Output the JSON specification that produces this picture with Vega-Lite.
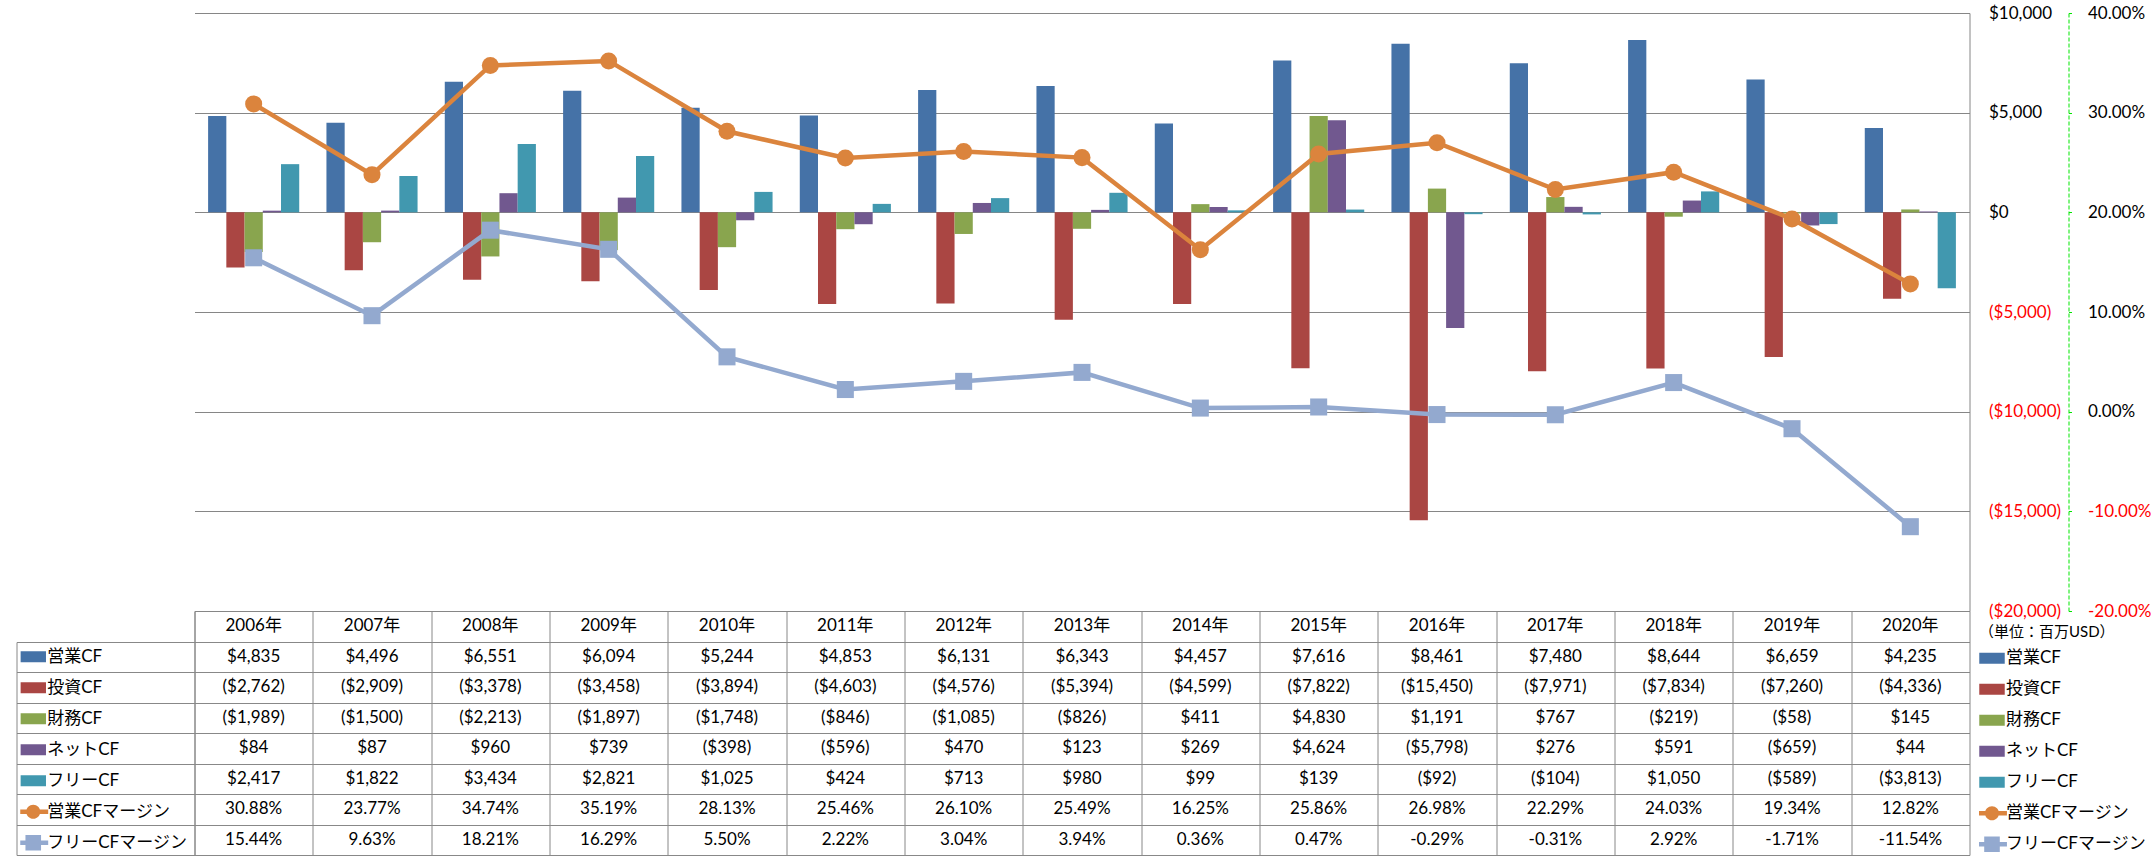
{
  "$schema": "https://vega.github.io/schema/vega-lite/v6.json",
  "autosize": {"type": "pad"},
  "padding": {"left": 15.5, "top": 4, "right": 2, "bottom": 1},
  "background": "white",
  "bounds": "flush",
  "spacing": 0,
  "config": {
    "font": "Lato, 'Noto Sans CJK JP'",
    "view": {"stroke": null},
    "locale": {"number": {"decimal": ".", "thousands": ",", "grouping": [3], "currency": ["$", ""], "minus": "-"}}
  },
  "datasets": {
    "cf": [
      {"year":"2006年","series":"営業CF","value":4835},{"year":"2007年","series":"営業CF","value":4496},{"year":"2008年","series":"営業CF","value":6551},{"year":"2009年","series":"営業CF","value":6094},{"year":"2010年","series":"営業CF","value":5244},{"year":"2011年","series":"営業CF","value":4853},{"year":"2012年","series":"営業CF","value":6131},{"year":"2013年","series":"営業CF","value":6343},{"year":"2014年","series":"営業CF","value":4457},{"year":"2015年","series":"営業CF","value":7616},{"year":"2016年","series":"営業CF","value":8461},{"year":"2017年","series":"営業CF","value":7480},{"year":"2018年","series":"営業CF","value":8644},{"year":"2019年","series":"営業CF","value":6659},{"year":"2020年","series":"営業CF","value":4235},
      {"year":"2006年","series":"投資CF","value":-2762},{"year":"2007年","series":"投資CF","value":-2909},{"year":"2008年","series":"投資CF","value":-3378},{"year":"2009年","series":"投資CF","value":-3458},{"year":"2010年","series":"投資CF","value":-3894},{"year":"2011年","series":"投資CF","value":-4603},{"year":"2012年","series":"投資CF","value":-4576},{"year":"2013年","series":"投資CF","value":-5394},{"year":"2014年","series":"投資CF","value":-4599},{"year":"2015年","series":"投資CF","value":-7822},{"year":"2016年","series":"投資CF","value":-15450},{"year":"2017年","series":"投資CF","value":-7971},{"year":"2018年","series":"投資CF","value":-7834},{"year":"2019年","series":"投資CF","value":-7260},{"year":"2020年","series":"投資CF","value":-4336},
      {"year":"2006年","series":"財務CF","value":-1989},{"year":"2007年","series":"財務CF","value":-1500},{"year":"2008年","series":"財務CF","value":-2213},{"year":"2009年","series":"財務CF","value":-1897},{"year":"2010年","series":"財務CF","value":-1748},{"year":"2011年","series":"財務CF","value":-846},{"year":"2012年","series":"財務CF","value":-1085},{"year":"2013年","series":"財務CF","value":-826},{"year":"2014年","series":"財務CF","value":411},{"year":"2015年","series":"財務CF","value":4830},{"year":"2016年","series":"財務CF","value":1191},{"year":"2017年","series":"財務CF","value":767},{"year":"2018年","series":"財務CF","value":-219},{"year":"2019年","series":"財務CF","value":-58},{"year":"2020年","series":"財務CF","value":145},
      {"year":"2006年","series":"ネットCF","value":84},{"year":"2007年","series":"ネットCF","value":87},{"year":"2008年","series":"ネットCF","value":960},{"year":"2009年","series":"ネットCF","value":739},{"year":"2010年","series":"ネットCF","value":-398},{"year":"2011年","series":"ネットCF","value":-596},{"year":"2012年","series":"ネットCF","value":470},{"year":"2013年","series":"ネットCF","value":123},{"year":"2014年","series":"ネットCF","value":269},{"year":"2015年","series":"ネットCF","value":4624},{"year":"2016年","series":"ネットCF","value":-5798},{"year":"2017年","series":"ネットCF","value":276},{"year":"2018年","series":"ネットCF","value":591},{"year":"2019年","series":"ネットCF","value":-659},{"year":"2020年","series":"ネットCF","value":44},
      {"year":"2006年","series":"フリーCF","value":2417},{"year":"2007年","series":"フリーCF","value":1822},{"year":"2008年","series":"フリーCF","value":3434},{"year":"2009年","series":"フリーCF","value":2821},{"year":"2010年","series":"フリーCF","value":1025},{"year":"2011年","series":"フリーCF","value":424},{"year":"2012年","series":"フリーCF","value":713},{"year":"2013年","series":"フリーCF","value":980},{"year":"2014年","series":"フリーCF","value":99},{"year":"2015年","series":"フリーCF","value":139},{"year":"2016年","series":"フリーCF","value":-92},{"year":"2017年","series":"フリーCF","value":-104},{"year":"2018年","series":"フリーCF","value":1050},{"year":"2019年","series":"フリーCF","value":-589},{"year":"2020年","series":"フリーCF","value":-3813}
    ],
    "margin": [
      {"year":"2006年","series":"営業CFマージン","value":0.3088},{"year":"2007年","series":"営業CFマージン","value":0.2377},{"year":"2008年","series":"営業CFマージン","value":0.3474},{"year":"2009年","series":"営業CFマージン","value":0.3519},{"year":"2010年","series":"営業CFマージン","value":0.2813},{"year":"2011年","series":"営業CFマージン","value":0.2546},{"year":"2012年","series":"営業CFマージン","value":0.2610},{"year":"2013年","series":"営業CFマージン","value":0.2549},{"year":"2014年","series":"営業CFマージン","value":0.1625},{"year":"2015年","series":"営業CFマージン","value":0.2586},{"year":"2016年","series":"営業CFマージン","value":0.2698},{"year":"2017年","series":"営業CFマージン","value":0.2229},{"year":"2018年","series":"営業CFマージン","value":0.2403},{"year":"2019年","series":"営業CFマージン","value":0.1934},{"year":"2020年","series":"営業CFマージン","value":0.1282},
      {"year":"2006年","series":"フリーCFマージン","value":0.1544},{"year":"2007年","series":"フリーCFマージン","value":0.0963},{"year":"2008年","series":"フリーCFマージン","value":0.1821},{"year":"2009年","series":"フリーCFマージン","value":0.1629},{"year":"2010年","series":"フリーCFマージン","value":0.0550},{"year":"2011年","series":"フリーCFマージン","value":0.0222},{"year":"2012年","series":"フリーCFマージン","value":0.0304},{"year":"2013年","series":"フリーCFマージン","value":0.0394},{"year":"2014年","series":"フリーCFマージン","value":0.0036},{"year":"2015年","series":"フリーCFマージン","value":0.0047},{"year":"2016年","series":"フリーCFマージン","value":-0.0029},{"year":"2017年","series":"フリーCFマージン","value":-0.0031},{"year":"2018年","series":"フリーCFマージン","value":0.0292},{"year":"2019年","series":"フリーCFマージン","value":-0.0171},{"year":"2020年","series":"フリーCFマージン","value":-0.1154}
    ]
  },
  "resolve": {"scale": {"x": "independent", "y": "independent", "color": "independent"}, "legend": {"color": "independent"}},
  "vconcat": [
    {
      "width": 1775,
      "height": 598,
      "resolve": {"scale": {"y": "independent"}},
      "layer": [
        {
          "data": {"name": "cf"},
          "mark": {"type": "bar"},
          "encoding": {
            "x": {"field": "year", "type": "nominal", "sort": null, "scale": {"paddingInner": 0.23, "paddingOuter": 0.115}, "axis": null},
            "xOffset": {"field": "series", "type": "nominal", "scale": {"domain": ["営業CF","投資CF","財務CF","ネットCF","フリーCF"], "paddingInner": 0, "paddingOuter": 0}},
            "y": {"field": "value", "type": "quantitative", "scale": {"domain": [-20000, 10000], "nice": false, "zero": false},
              "axis": {"orient": "right", "values": [-20000,-15000,-10000,-5000,0,5000,10000], "format": "($,.0f", "grid": true, "gridColor": "#868686", "domain": true, "domainColor": "#868686", "ticks": false, "tickSize": 0, "labelPadding": 19, "labelFontSize": 17, "labelAlign": "left", "labelColor": {"condition": {"test": "datum.value < 0", "value": "#FF0000"}, "value": "#000000"}, "title": null}},
            "color": {"field": "series", "type": "nominal",
              "scale": {"domain": ["営業CF","投資CF","財務CF","ネットCF","フリーCF","営業CFマージン","フリーCFマージン"], "range": ["#4572A7","#AA4643","#89A54E","#71588F","#4198AF","#DB843D","#93A9CF"]},
              "legend": {"orient": "none", "legendX": 1784.5, "legendY": 612, "title": "（単位：百万USD）", "titleFontSize": 15, "titleFontWeight": "normal", "titleColor": "#000000", "titlePadding": 3, "labelFontSize": 17, "labelColor": "#000000", "labelOffset": 1, "padding": 0, "clipHeight": 30.5, "rowPadding": 0, "symbolSize": 676, "symbolStrokeWidth": 0, "symbolOpacity": 1,
                "encode": {"symbols": {"update": {
                  "shape": {"signal": "datum.value == '営業CFマージン' ? 'M-1.15,-0.17H1.15V0.17H-1.15Z M0.54,0A0.54,0.54 0 1,1 -0.54,0A0.54,0.54 0 1,1 0.54,0Z' : datum.value == 'フリーCFマージン' ? 'M-1.15,-0.17H1.15V0.17H-1.15Z M-0.6,-0.6H0.6V0.6H-0.6Z' : 'M-0.98,-0.42H0.98V0.42H-0.98Z'"}
                }}}}}
          }
        },
        {
          "data": {"name": "margin"},
          "encoding": {
            "x": {"field": "year", "type": "nominal", "sort": null},
            "y": {"field": "value", "type": "quantitative", "scale": {"domain": [-0.2, 0.4], "nice": false, "zero": false},
              "axis": {"orient": "right", "offset": 99, "values": [-0.2,-0.1,0,0.1,0.2,0.3,0.4], "format": ".2%", "grid": false, "domain": true, "domainColor": "#00E600", "domainDash": [4,2], "ticks": true, "tickColor": "#00E600", "tickSize": 3, "labelPadding": 16, "labelFontSize": 17, "labelAlign": "left", "labelColor": {"condition": {"test": "datum.value < 0", "value": "#FF0000"}, "value": "#000000"}, "title": null}},
            "color": {"field": "series", "type": "nominal"}
          },
          "layer": [
            {"mark": {"type": "line", "strokeWidth": 4.5}},
            {"mark": {"type": "point", "filled": true, "opacity": 1, "size": 290},
             "encoding": {"shape": {"field": "series", "type": "nominal", "scale": {"domain": ["営業CFマージン","フリーCFマージン"], "range": ["circle","square"]}, "legend": null}}}
          ]
        }
      ]
    },
    {
      "width": 1775,
      "height": 244,
      "resolve": {"scale": {"x": "independent"}},
      "layer": [
        {
          "layer": [
            {
              "data": {"name": "cf"},
              "transform": [{"filter": "datum.series == '営業CF'"}],
              "mark": {"type": "text", "fontSize": 17, "color": "#000000"},
              "encoding": {
                "x": {"field": "year", "type": "nominal", "sort": null, "scale": {"paddingInner": 0, "paddingOuter": 0},
                  "axis": {"orient": "top", "grid": true, "tickBand": "extent", "gridColor": "#888888", "labels": false, "ticks": false, "domain": false, "title": null}},
                "y": {"datum": "hdr", "type": "nominal", "scale": {"domain": ["hdr","営業CF","投資CF","財務CF","ネットCF","フリーCF","営業CFマージン","フリーCFマージン"], "paddingInner": 0, "paddingOuter": 0},
                  "axis": {"orient": "left", "values": ["営業CF","投資CF","財務CF","ネットCF","フリーCF","営業CFマージン","フリーCFマージン"], "tickBand": "extent", "grid": true, "gridColor": "#888888", "ticks": true, "tickSize": 178, "tickColor": "#888888", "labels": false, "domain": true, "domainColor": "#888888", "title": null}},
                "text": {"field": "year"}
              }
            },
            {
              "data": {"name": "cf"},
              "mark": {"type": "text", "fontSize": 17, "color": "#000000"},
              "encoding": {
                "x": {"field": "year", "type": "nominal", "sort": null},
                "y": {"field": "series", "type": "nominal"},
                "text": {"field": "value", "type": "quantitative", "format": "($,.0f"}
              }
            },
            {
              "data": {"name": "margin"},
              "mark": {"type": "text", "fontSize": 17, "color": "#000000"},
              "encoding": {
                "x": {"field": "year", "type": "nominal", "sort": null},
                "y": {"field": "series", "type": "nominal"},
                "text": {"field": "value", "type": "quantitative", "format": ".2%"}
              }
            }
          ]
        },
        {
          "data": {"name": "margin"},
          "transform": [{"filter": "datum.year == '2006年'"}],
          "mark": {"type": "point", "filled": true, "size": 0, "opacity": 0},
          "encoding": {
            "x": {"field": "year", "type": "nominal", "sort": null, "scale": {"type": "band", "paddingInner": 0, "paddingOuter": 0},
              "axis": {"orient": "bottom", "values": ["2006年"], "bandPosition": 0, "tickOffset": -178, "tickSize": -213, "ticks": true, "tickColor": "#888888", "labels": false, "domain": false, "grid": false, "title": null}},
            "y": {"field": "series", "type": "nominal"},
            "color": {"field": "series", "type": "nominal",
              "scale": {"domain": ["営業CF","投資CF","財務CF","ネットCF","フリーCF","営業CFマージン","フリーCFマージン"], "range": ["#4572A7","#AA4643","#89A54E","#71588F","#4198AF","#DB843D","#93A9CF"]},
              "legend": {"orient": "none", "legendX": -174.25, "legendY": 30.5, "title": null, "labelFontSize": 17, "labelColor": "#000000", "labelOffset": 1, "padding": 0, "clipHeight": 30.5, "rowPadding": 0, "symbolSize": 676, "symbolStrokeWidth": 0, "symbolOpacity": 1,
                "encode": {"symbols": {"update": {
                  "shape": {"signal": "datum.value == '営業CFマージン' ? 'M-1.15,-0.17H1.15V0.17H-1.15Z M0.54,0A0.54,0.54 0 1,1 -0.54,0A0.54,0.54 0 1,1 0.54,0Z' : datum.value == 'フリーCFマージン' ? 'M-1.15,-0.17H1.15V0.17H-1.15Z M-0.6,-0.6H0.6V0.6H-0.6Z' : 'M-0.98,-0.42H0.98V0.42H-0.98Z'"},
                  "opacity": {"value": 1},
                  "size": {"value": 676}
                }}}}}
          }
        }
      ]
    }
  ]
}
